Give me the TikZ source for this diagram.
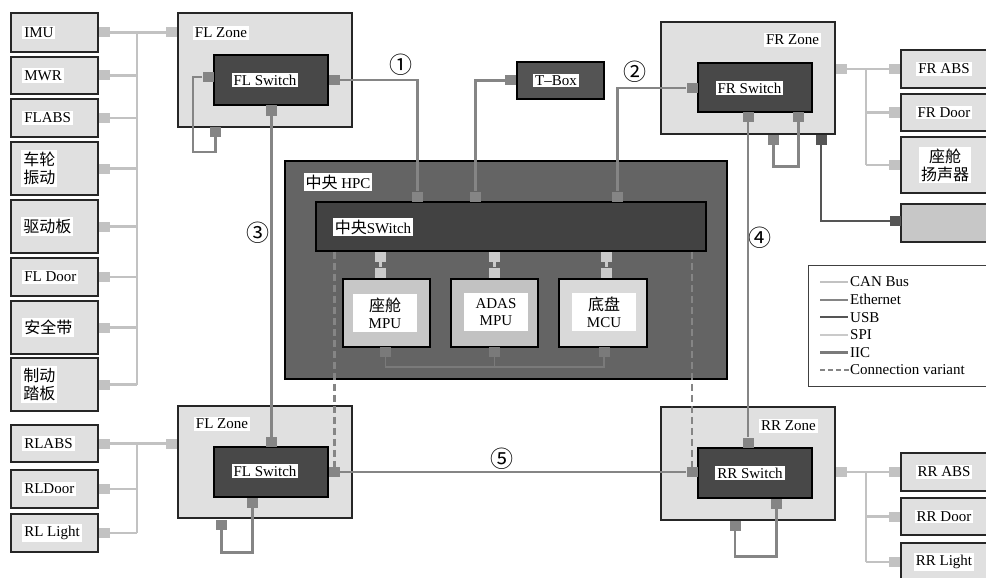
\documentclass[tikz,border=0pt]{standalone}
\usepackage{fontspec}
\setmainfont{Liberation Serif}
\newfontfamily\cjk{Noto Sans CJK SC}
\usepackage{xcolor}
\definecolor{zonegray}{HTML}{E0E0E0}
\definecolor{swgray}{HTML}{484848}
\definecolor{hpcgray}{HTML}{646464}
\definecolor{cancol}{HTML}{C2C2C2}
\definecolor{ethcol}{HTML}{858585}
\definecolor{usbcol}{HTML}{555555}
\definecolor{spicol}{HTML}{CACACA}
\definecolor{iiccol}{HTML}{7A7A7A}
\usepackage{tikz}
\usetikzlibrary{positioning}
\tikzstyle{dev}     = [rectangle, draw=black!85, line width=1.8pt, fill=zonegray,
                       inner sep=0pt, minimum width=87pt]
\tikzstyle{zone}    = [rectangle, draw=black!85, line width=1.6pt, fill=zonegray,
                       inner sep=0pt, minimum width=174pt, minimum height=113pt]
\tikzstyle{switch}  = [rectangle, draw=black, line width=1.6pt, fill=swgray,
                       inner sep=0pt, minimum width=114pt, minimum height=50pt]
\tikzstyle{mpu}     = [rectangle, draw=black, line width=1.5pt, inner sep=0pt,
                       minimum width=87pt, minimum height=68pt]
\tikzstyle{lbl}     = [fill=white, inner sep=2pt, align=center,
                       font=\fontsize{15}{17}\selectfont]
\tikzstyle{cjklbl}  = [lbl, font=\cjk\fontsize{16}{18}\selectfont]
\tikzstyle{num}     = [inner sep=0pt, font=\cjk\fontsize{23}{23}\selectfont]
\tikzstyle{port}    = [rectangle, inner sep=0pt, minimum width=11pt, minimum height=10pt]
\tikzstyle{canport} = [port, fill=cancol]
\tikzstyle{ethport} = [port, fill=ethcol]
\tikzstyle{usbport} = [port, fill=usbcol]
\tikzstyle{spiport} = [port, fill=spicol]
\tikzstyle{iicport} = [port, fill=iiccol]
\tikzstyle{can}     = [draw=cancol, line width=2.3pt]
\tikzstyle{eth}     = [draw=ethcol, line width=2.2pt]
\tikzstyle{usb}     = [draw=usbcol, line width=2.2pt]
\tikzstyle{spi}     = [draw=spicol, line width=2.2pt]
\tikzstyle{iic}     = [draw=iiccol, line width=1.4pt]
\tikzstyle{variant} = [draw=ethcol, line width=2.2pt, dash pattern=on 7pt off 4pt]
\begin{document}
\begin{tikzpicture}[x=1pt, y=-1pt]
  \useasboundingbox (0,0) rectangle (986,578);
  \clip (0,0) rectangle (986,578);

  % left devices
  \node[dev, minimum height=39pt] (imu)     at (54.5,32.5)  {};
  \node[dev, minimum height=37pt] (mwr)     at (54.5,75.5)  {};
  \node[dev, minimum height=38pt] (flabs)   at (54.5,118)   {};
  \node[dev, minimum height=53pt] (wheel)   at (54.5,168.5) {};
  \node[dev, minimum height=53pt] (drvbd)   at (54.5,226.5) {};
  \node[dev, minimum height=38pt] (fldoor)  at (54.5,277)   {};
  \node[dev, minimum height=53pt] (belt)    at (54.5,327.5) {};
  \node[dev, minimum height=53pt] (brake)   at (54.5,384.5) {};
  \node[dev, minimum height=37pt] (rlabs)   at (54.5,443.5) {};
  \node[dev, minimum height=38pt] (rldoor)  at (54.5,489)   {};
  \node[dev, minimum height=38pt] (rllight) at (54.5,533)   {};
  \node[lbl, right=12pt of imu.west]        (imu-t)     {IMU};
  \node[lbl, right=12pt of mwr.west]        (mwr-t)     {MWR};
  \node[lbl, right=12pt of flabs.west]      (flabs-t)   {FLABS};
  \node[cjklbl, right=11pt of wheel.west]   (wheel-t)   {车轮\\振动};
  \node[cjklbl, right=11pt of drvbd.west]   (drvbd-t)   {驱动板};
  \node[lbl, right=12pt of fldoor.west]     (fldoor-t)  {FL Door};
  \node[cjklbl, right=12pt of belt.west]    (belt-t)    {安全带};
  \node[cjklbl, right=11pt of brake.west]   (brake-t)   {制动\\踏板};
  \node[lbl, right=12pt of rlabs.west]      (rlabs-t)   {RLABS};
  \node[lbl, right=12pt of rldoor.west]     (rldoor-t)  {RLDoor};
  \node[lbl, right=12pt of rllight.west]    (rllight-t) {RL Light};
  \node[canport, right=0pt of imu]     (imu-p)     {};
  \node[canport, right=0pt of mwr]     (mwr-p)     {};
  \node[canport, right=0pt of flabs]   (flabs-p)   {};
  \node[canport, right=0pt of wheel]   (wheel-p)   {};
  \node[canport, right=0pt of drvbd]   (drvbd-p)   {};
  \node[canport, right=0pt of fldoor]  (fldoor-p)  {};
  \node[canport, right=0pt of belt]    (belt-p)    {};
  \node[canport, right=0pt of brake]   (brake-p)   {};
  \node[canport, right=0pt of rlabs]   (rlabs-p)   {};
  \node[canport, right=0pt of rldoor]  (rldoor-p)  {};
  \node[canport, right=0pt of rllight] (rllight-p) {};
  \coordinate (busl) at (137,0);

  % front left zone
  \node[zone, minimum height=114pt] (fl1) at (265,70) {};
  \node[lbl] (fl1-t) at (221,33) {FL Zone};
  \node[switch] (fl1s) at (271,80) {};
  \node[lbl] (fl1s-t) at (265,80) {FL Switch};
  \node[canport] (fl1-pc) at (171.5,32.5) {};
  \node[ethport] (fl1-pl) at (208,77)     {};
  \node[ethport] (fl1-pr) at (334,80)     {};
  \node[ethport] (fl1-pb) at (271.5,110.5) {};
  \node[ethport] (fl1-pz) at (215.5,132)  {};

  % rear left zone
  \node[zone, minimum height=112pt] (fl2) at (265,462) {};
  \node[lbl] (fl2-t) at (222,424) {FL Zone};
  \node[switch] (fl2s) at (271,472) {};
  \node[lbl] (fl2s-t) at (265,471) {FL Switch};
  \node[canport] (fl2-pc) at (171.5,443.5) {};
  \node[ethport] (fl2-pt) at (271.5,442)   {};
  \node[ethport] (fl2-pr) at (334.5,472)   {};
  \node[ethport] (fl2-pb) at (252.5,502.5) {};
  \node[ethport] (fl2-pz) at (221.5,524.5) {};

  % central HPC
  \node[rectangle, draw=black, line width=1.6pt, fill=hpcgray, minimum width=442pt,
        minimum height=218pt] (hpc) at (506,270) {};
  \node[lbl] (hpc-t) at (338,182) {{\cjk\fontsize{16}{18}\selectfont 中央} HPC};
  \node[rectangle, draw=black, line width=1.6pt, fill=black!74, minimum width=390pt,
        minimum height=49pt] (hs) at (511,226.5) {};
  \node[lbl] (hs-t) at (373,227) {{\cjk\fontsize{16}{18}\selectfont 中央}SWitch};
  \node[ethport] (hs-p1) at (417.5,196.5) {};
  \node[ethport] (hs-p2) at (475.5,196.5) {};
  \node[ethport] (hs-p3) at (617.5,196.5) {};
  \node[spiport] (hs-q1) at (380.5,257) {};
  \node[spiport] (hs-q2) at (494.5,257) {};
  \node[spiport] (hs-q3) at (606.5,257) {};
  \node[mpu, fill=black!22] (mpu1) at (386.5,313) {};
  \node[mpu, fill=black!24] (mpu2) at (494.5,313) {};
  \node[mpu, fill=black!15, minimum width=88pt] (mpu3) at (603,313) {};
  \node[lbl, minimum width=64pt, minimum height=38pt] (mpu1-t) at (385,313)
       {{\cjk\fontsize{16}{18}\selectfont 座舱}\\MPU};
  \node[lbl, minimum width=64pt, minimum height=38pt] (mpu2-t) at (496,312) {ADAS\\MPU};
  \node[lbl, minimum width=64pt, minimum height=38pt] (mpu3-t) at (604,312)
       {{\cjk\fontsize{16}{18}\selectfont 底盘}\\MCU};
  \node[spiport] (mpu1-pt) at (380.5,272.5) {};
  \node[spiport] (mpu2-pt) at (494.5,272.5) {};
  \node[spiport] (mpu3-pt) at (606.5,272.5) {};
  \node[iicport] (mpu1-pb) at (385.5,352) {};
  \node[iicport] (mpu2-pb) at (494.5,352) {};
  \node[iicport] (mpu3-pb) at (604,352)   {};

  % T-Box
  \node[rectangle, draw=black, line width=1.6pt, fill=black!67, minimum width=87pt,
        minimum height=37pt] (tbox) at (560.5,80.5) {};
  \node[lbl] (tbox-t) at (556,80.5) {T--Box};
  \node[ethport, left=0pt of tbox] (tbox-p) {};

  % front right zone
  \node[zone, minimum height=112pt] (fr) at (748,78) {};
  \node[lbl] (fr-t) at (792.5,40) {FR Zone};
  \node[switch, minimum height=49pt] (frs) at (755,87.5) {};
  \node[lbl] (frs-t) at (749.5,88) {FR Switch};
  \node[ethport] (fr-pl)  at (692,88)      {};
  \node[ethport] (fr-pb1) at (748,117)     {};
  \node[ethport] (fr-pb2) at (798.5,117)   {};
  \node[ethport] (fr-pz)  at (773.5,139.5) {};
  \node[usbport] (fr-pu)  at (821,139.5)   {};
  \node[canport] (fr-pc)  at (841,69)      {};

  % rear right zone
  \node[zone] (rr) at (748,463.5) {};
  \node[lbl] (rr-t) at (788.5,426) {RR Zone};
  \node[switch] (rrs) at (755,473) {};
  \node[lbl] (rrs-t) at (750,473) {RR Switch};
  \node[ethport] (rr-pt) at (748,442.5)   {};
  \node[ethport] (rr-pl) at (692,472)     {};
  \node[ethport] (rr-pb) at (776.5,503.5) {};
  \node[ethport] (rr-pz) at (735,525.5)   {};
  \node[canport] (rr-pc) at (841,472)     {};

  % right devices
  \node[dev, minimum width=89pt, minimum height=38pt] (frabs)   at (945.5,69)    {};
  \node[dev, minimum width=89pt, minimum height=37pt] (frdoor)  at (945.5,112.5) {};
  \node[dev, minimum width=89pt, minimum height=56pt] (spk)     at (945.5,165)   {};
  \node[dev, minimum width=89pt, minimum height=38pt, fill=black!22] (gbox) at (945.5,223) {};
  \node[dev, minimum width=89pt, minimum height=38pt] (rrabs)   at (945.5,472)   {};
  \node[dev, minimum width=89pt, minimum height=37pt] (rrdoor)  at (945.5,516.5) {};
  \node[dev, minimum width=89pt, minimum height=38pt] (rrlight) at (945.5,562)   {};
  \node[lbl] (frabs-t)   at (944,69)    {FR ABS};
  \node[lbl] (frdoor-t)  at (944,112.5) {FR Door};
  \node[cjklbl] (spk-t)  at (945,165)   {座舱\\扬声器};
  \node[lbl] (rrabs-t)   at (944,472)   {RR ABS};
  \node[lbl] (rrdoor-t)  at (944,516.5) {RR Door};
  \node[lbl] (rrlight-t) at (944,562)   {RR Light};
  \node[canport, left=0pt of frabs]   (frabs-p)   {};
  \node[canport, left=0pt of frdoor]  (frdoor-p)  {};
  \node[canport, left=0pt of spk]     (spk-p)     {};
  \node[usbport] (gbox-p) at (895.5,221) {};
  \node[canport, left=0pt of rrabs]   (rrabs-p)   {};
  \node[canport, left=0pt of rrdoor]  (rrdoor-p)  {};
  \node[canport, left=0pt of rrlight] (rrlight-p) {};
  \coordinate (busr) at (866,0);

  % legend
  \node[rectangle, draw=black!75, line width=1pt, fill=white, minimum width=182pt,
        minimum height=121pt] (legend) at (899,325.5) {};
  \node[inner sep=0pt, anchor=west, font=\fontsize{15}{17}\selectfont] (lg1) at (850,282)   {CAN Bus};
  \node[inner sep=0pt, anchor=west, font=\fontsize{15}{17}\selectfont] (lg2) at (850,299.6) {Ethernet};
  \node[inner sep=0pt, anchor=west, font=\fontsize{15}{17}\selectfont] (lg3) at (850,317.2) {USB};
  \node[inner sep=0pt, anchor=west, font=\fontsize{15}{17}\selectfont] (lg4) at (850,334.8) {SPI};
  \node[inner sep=0pt, anchor=west, font=\fontsize{15}{17}\selectfont] (lg5) at (850,352.4) {IIC};
  \node[inner sep=0pt, anchor=west, font=\fontsize{15}{17}\selectfont] (lg6) at (850,370)   {Connection variant};

  % link numbers
  \node[num] (n1) at (401,65)  {①};
  \node[num] (n2) at (635,72)  {②};
  \node[num] (n3) at (258,233) {③};
  \node[num] (n4) at (760,238) {④};
  \node[num] (n5) at (502,459) {⑤};

  % CAN buses
  \draw[can] (imu-p) -- (fl1-pc);
  \draw[can] (busl |- imu-p) -- (busl |- brake-p);
  \draw[can] (mwr-p)    -- (mwr-p -| busl);
  \draw[can] (flabs-p)  -- (flabs-p -| busl);
  \draw[can] (wheel-p)  -- (wheel-p -| busl);
  \draw[can] (drvbd-p)  -- (drvbd-p -| busl);
  \draw[can] (fldoor-p) -- (fldoor-p -| busl);
  \draw[can] (belt-p)   -- (belt-p -| busl);
  \draw[can] (brake-p)  -- (brake-p -| busl);
  \draw[can] (rlabs-p) -- (fl2-pc);
  \draw[can] (busl |- rlabs-p) -- (busl |- rllight-p);
  \draw[can] (rldoor-p)  -- (rldoor-p -| busl);
  \draw[can] (rllight-p) -- (rllight-p -| busl);
  \draw[can] (fr-pc) -- (frabs-p);
  \draw[can] (busr |- frabs-p) -- (busr |- spk-p);
  \draw[can] (frdoor-p) -- (frdoor-p -| busr);
  \draw[can] (spk-p)    -- (spk-p -| busr);
  \draw[can] (rr-pc) -- (rrabs-p);
  \draw[can] (busr |- rrabs-p) -- (busr |- rrlight-p);
  \draw[can] (rrdoor-p)  -- (rrdoor-p -| busr);
  \draw[can] (rrlight-p) -- (rrlight-p -| busr);

  % Ethernet backbone
  \draw[eth] (fl1-pr) -| (hs-p1);
  \draw[eth] (tbox-p) -| (hs-p2);
  \draw[eth] (hs-p3) |- (fr-pl);
  \draw[eth] (fl1-pb) -- (fl2-pt);
  \draw[eth] (fr-pb1) -- (rr-pt);
  \draw[eth] (fl2-pr) -- (rr-pl);
  \draw[eth] (fl1-pl) -| ++(-15,75) -| (fl1-pz);
  \draw[eth] (fl2-pz) -- ++(0,28) -| (fl2-pb);
  \draw[eth] (fr-pz) -- ++(0,27) -| (fr-pb2);
  \draw[eth] (rr-pz) -- ++(0,31) -| (rr-pb);
  \draw[variant] (hs.south -| fl2-pr) -- (fl2-pr);
  \draw[variant] (hs.south -| rr-pl) -- (rr-pl);
  \draw[usb] (fr-pu) |- (gbox-p);

  % inside HPC
  \draw[spi] (hs-q1) -- (mpu1-pt);
  \draw[spi] (hs-q2) -- (mpu2-pt);
  \draw[spi] (hs-q3) -- (mpu3-pt);
  \draw[iic] (mpu1-pb) -- ++(0,15) -| (mpu3-pb);
  \draw[iic] (mpu2-pb) -- ++(0,15);

  % legend samples
  \draw[can]     ([xshift=-30pt]lg1.west) -- ([xshift=-2pt]lg1.west);
  \draw[eth]     ([xshift=-30pt]lg2.west) -- ([xshift=-2pt]lg2.west);
  \draw[usb]     ([xshift=-30pt]lg3.west) -- ([xshift=-2pt]lg3.west);
  \draw[spi]     ([xshift=-30pt]lg4.west) -- ([xshift=-2pt]lg4.west);
  \draw[iic, line width=2.2pt] ([xshift=-30pt]lg5.west) -- ([xshift=-2pt]lg5.west);
  \draw[variant, dash pattern=on 5pt off 3pt] ([xshift=-30pt]lg6.west) -- ([xshift=-1pt]lg6.west);
\end{tikzpicture}
\end{document}
